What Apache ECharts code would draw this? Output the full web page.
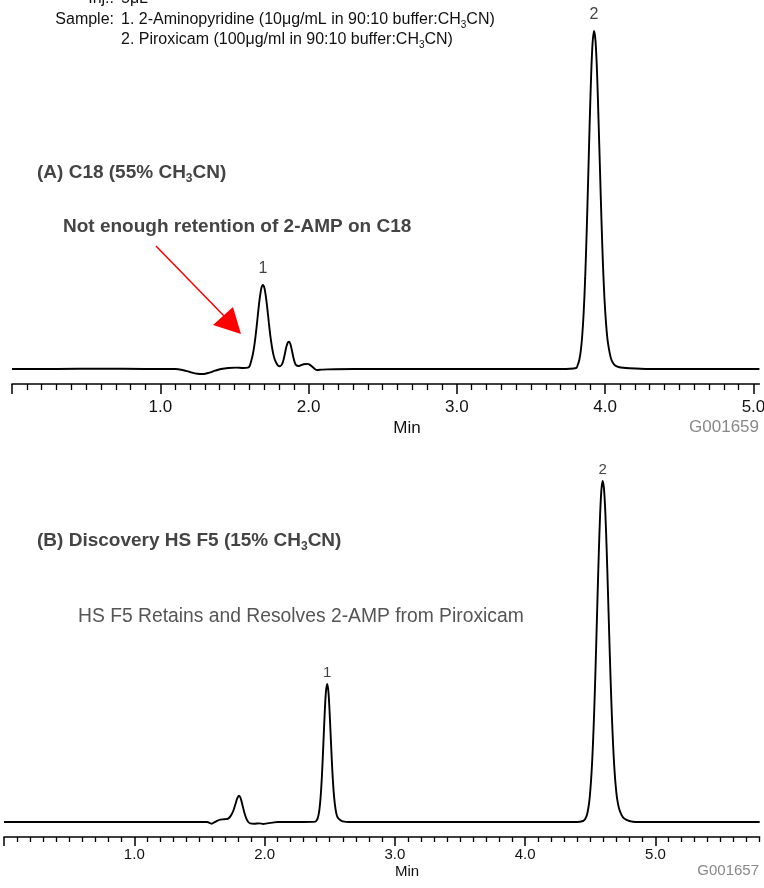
<!DOCTYPE html>
<html><head><meta charset="utf-8">
<script src="https://cdn.jsdelivr.net/npm/echarts@6/dist/echarts.min.js"></script>
<style>html,body{margin:0;padding:0;background:#fff}#c{width:764px;height:888px}</style>
</head><body><div id="c"></div>
<script>
// ---------- data ----------
// (A) C18 chromatogram: retention time (min) and detector signal (relative, peak 2 = 100)
const topTime = [0.00,0.30,0.60,0.90,1.10,1.15,1.20,1.25,1.29,1.33,1.37,1.41,1.46,1.51,1.56,1.59,
  1.602,1.612,1.622,1.632,1.642,1.652,1.662,1.672,1.682,1.692,1.702,1.712,1.722,1.732,1.742,1.752,1.762,1.772,1.782,1.794,
  1.807,1.822,1.832,1.842,1.852,1.862,1.869,1.877,1.887,1.897,1.907,1.917,1.932,1.947,1.967,1.992,2.007,2.027,2.042,2.057,2.087,2.127,
  2.30,2.80,3.30,3.70,3.805,3.815,3.825,3.835,3.845,3.855,3.865,3.875,3.885,3.895,3.905,3.915,3.925,3.935,3.945,3.955,3.965,3.975,3.985,3.995,4.005,
  4.015,4.025,4.035,4.045,4.065,4.095,4.165,4.30,4.70,5.04];
const topSignal = [0,0,0.1,0,0,-0.3,-0.9,-1.4,-1.5,-1.1,-0.5,0.0,0.3,0.4,0.3,0.4,
  0.8,2.2,3.9,6.3,9.6,13.5,17.7,21.4,24.0,24.9,24.0,21.4,17.8,13.7,9.9,6.8,4.4,2.8,1.8,1.0,
  0.8,1.5,2.9,4.9,6.9,8.0,8.1,7.4,5.6,3.5,1.9,1.1,0.9,1.1,1.4,1.5,1.3,0.6,0.0,-0.3,-0.2,-0.1,
  0,0,0,0,0.3,1.2,2.6,5.2,9.7,16.7,26.8,40.1,55.7,72.0,86.4,96.4,100,97.0,88.0,74.0,59.0,44.0,31.0,21.0,14.0,
  9.0,6.0,3.8,2.4,1.1,0.5,0.2,0,0,0];
const topPeakNames = ['1','2'];
const topPeakTimes = [1.692, 3.925];
const topPeakHeights = [24.9, 100];

// (B) Discovery HS F5 chromatogram
const botTime = [0.00,0.50,1.00,1.30,1.50,1.56,1.58,1.595,1.61,1.635,1.66,1.69,1.72,1.74,1.76,1.775,1.79,1.803,1.815,1.83,1.845,1.86,1.875,
  1.89,1.92,1.96,1.99,2.02,2.06,2.10,2.30,2.39,2.40,2.41,2.42,2.43,2.44,2.45,2.46,2.47,2.48,2.49,2.50,2.51,2.52,2.53,2.54,2.55,2.56,2.58,2.60,2.65,
  3.00,3.50,4.00,4.40,4.445,4.455,4.465,4.475,4.485,4.495,4.505,4.515,4.525,4.535,4.545,4.555,4.565,4.575,4.585,4.595,
  4.605,4.615,4.625,4.635,4.645,4.655,4.665,4.675,4.685,4.695,4.705,4.72,4.74,4.76,4.80,4.85,5.30,5.80];
const botSignal = [0,0,0,0,0,0,-0.3,-0.5,-0.2,0.3,0.7,0.8,1.0,1.8,3.3,5.1,6.9,7.7,7.1,5.0,2.7,1.0,0.0,
  -0.4,-0.5,-0.4,-0.6,-0.4,-0.2,0,0,0.1,0.5,1.4,3.4,7.3,13.5,21.8,30.8,37.8,40.5,38.2,31.5,23.0,15.0,9.0,5.0,2.6,1.4,0.6,0.2,0,
  0,0,0,0,0.3,0.6,1.2,2.2,4.1,7.1,11.8,18.4,27.4,38.6,51.7,65.5,78.8,90.0,97.4,100,
  97.6,91.0,80.5,68.0,55.0,42.5,31.5,22.5,15.5,10.5,7.0,4.0,2.0,1.0,0.3,0,0,0];
const botPeakNames = ['1','2'];
const botPeakTimes = [2.48, 4.595];
const botPeakHeights = [40.5, 100];

// axes
const majorTicks = [0,1,2,3,4,5];
const tickLabels = [1,2,3,4,5];
const topMax = 5.04, botMax = 5.8;
const topMinorTicks = [], botMinorTicks = [];
for (let i = 1; i < 50; i++) if (i % 10) topMinorTicks.push(i / 10);
for (let i = 1; i <= 58; i++) if (i % 10) botMinorTicks.push(i / 10);

// ---------- chart ----------
const FONT = '"Liberation Sans", Arial, Helvetica, sans-serif';
const chart = echarts.init(document.getElementById('c'), null, {renderer: 'canvas'});

function majorAxis(gi, max, margin, fs, len) {
  return {type: 'value', gridIndex: gi, position: 'bottom', min: 0, max: max,
    axisLine: {show: true, onZero: false, lineStyle: {color: '#000', width: 1.5}},
    axisTick: {show: true, customValues: majorTicks, length: len, lineStyle: {color: '#000', width: 1.5}},
    axisLabel: {show: true, customValues: tickLabels, formatter: v => Number(v).toFixed(1),
      color: '#111', fontSize: fs, fontFamily: FONT, margin: margin},
    splitLine: {show: false}};
}
function minorAxis(gi, max, ticks, len) {
  return {type: 'value', gridIndex: gi, position: 'bottom', min: 0, max: max,
    axisLine: {show: false, onZero: false},
    axisTick: {show: true, customValues: ticks, length: len, lineStyle: {color: '#000', width: 1.3}},
    axisLabel: {show: false}, splitLine: {show: false}};
}
const pair = (xs, ys) => xs.map((x, i) => [x, ys[i]]);
const peakLabelSeries = (xi, yi, names, ts, hs, fs, dist) => ({
  type: 'scatter', xAxisIndex: xi, yAxisIndex: yi, symbolSize: 0, silent: true,
  data: names.map((n, i) => ({name: n, value: [ts[i], hs[i]]})),
  label: {show: true, position: 'top', distance: dist, formatter: p => p.name,
    color: '#111', fontSize: fs, fontFamily: FONT}
});

function txt(x, y, text, opt) {
  return {type: 'text', x: x, y: y, silent: true,
    style: Object.assign({text: text, fontFamily: FONT, fontSize: 16, fill: '#111',
      align: 'left', verticalAlign: 'middle'}, opt || {})};
}
function richTxt(x, y, text, opt) {
  const t = txt(x, y, text, opt);
  const fs = t.style.fontSize;
  t.style.lineHeight = Math.round(fs * 1.25);
  t.style.rich = {s: {fontSize: Math.round(fs * 0.62), lineHeight: Math.round(fs * 0.62), verticalAlign: 'bottom',
    fontFamily: FONT, fill: t.style.fill, fontWeight: t.style.fontWeight || 'normal'}};
  return t;
}

chart.setOption({
  animation: false,
  backgroundColor: '#fff',
  grid: [
    {left: 12, right: 4.6, top: 31, bottom: 504, containLabel: false, outerBoundsMode: 'none'},
    {left: 4, right: 4.3, top: 481, bottom: 51, containLabel: false, outerBoundsMode: 'none'}
  ],
  xAxis: [majorAxis(0, topMax, 15, 17, 10), minorAxis(0, topMax, topMinorTicks, 6),
          majorAxis(1, botMax, 10.5, 15, 9), minorAxis(1, botMax, botMinorTicks, 5)],
  yAxis: [
    {type: 'value', gridIndex: 0, min: -4.44, max: 100, show: false},
    {type: 'value', gridIndex: 1, min: -4.4, max: 100, show: false}
  ],
  series: [
    {type: 'line', xAxisIndex: 0, yAxisIndex: 0, data: pair(topTime, topSignal), showSymbol: false, symbol: 'none',
      smooth: 0.3, clip: false, lineStyle: {color: '#000', width: 1.9}},
    {type: 'line', xAxisIndex: 2, yAxisIndex: 1, data: pair(botTime, botSignal), showSymbol: false, symbol: 'none',
      smooth: 0.3, clip: false, lineStyle: {color: '#000', width: 1.9}},
    peakLabelSeries(0, 0, topPeakNames, topPeakTimes, topPeakHeights, 16, 8),
    peakLabelSeries(2, 1, botPeakNames, botPeakTimes, botPeakHeights, 15, 4)
  ],
  graphic: [
    txt(114, -1, 'Inj.:', {align: 'right'}),
    txt(121, -1, '5μL'),
    txt(114, 20, 'Sample:', {align: 'right'}),
    richTxt(121, 20, '1. 2-Aminopyridine (10μg/mL in 90:10 buffer:CH{s|3}CN)'),
    richTxt(121, 40, '2. Piroxicam (100μg/ml in 90:10 buffer:CH{s|3}CN)'),
    richTxt(37, 173, '(A) C18 (55% CH{s|3}CN)', {fontWeight: 'bold', fontSize: 19, fill: '#444'}),
    txt(63, 227, 'Not enough retention of 2-AMP on C18', {fontWeight: 'bold', fontSize: 19, fill: '#444'}),
    {type: 'line', silent: true, shape: {x1: 156, y1: 246, x2: 226, y2: 318}, style: {stroke: '#ff0000', lineWidth: 1.5}},
    {type: 'polygon', silent: true, shape: {points: [[213, 325], [233, 307], [241, 334]]}, style: {fill: '#ff0000'}},
    richTxt(37, 541, '(B) Discovery HS F5 (15% CH{s|3}CN)', {fontWeight: 'bold', fontSize: 19, fill: '#444'}),
    txt(78, 617, 'HS F5 Retains and Resolves 2-AMP from Piroxicam', {fontSize: 19.3, fill: '#555'}),
    txt(407, 428, 'Min', {align: 'center', fontSize: 17}),
    txt(759, 427, 'G001659', {align: 'right', fill: '#888', fontSize: 17}),
    txt(407, 872, 'Min', {align: 'center', fontSize: 15}),
    txt(759, 871, 'G001657', {align: 'right', fill: '#888', fontSize: 15})
  ]
});
</script>
</body></html>
